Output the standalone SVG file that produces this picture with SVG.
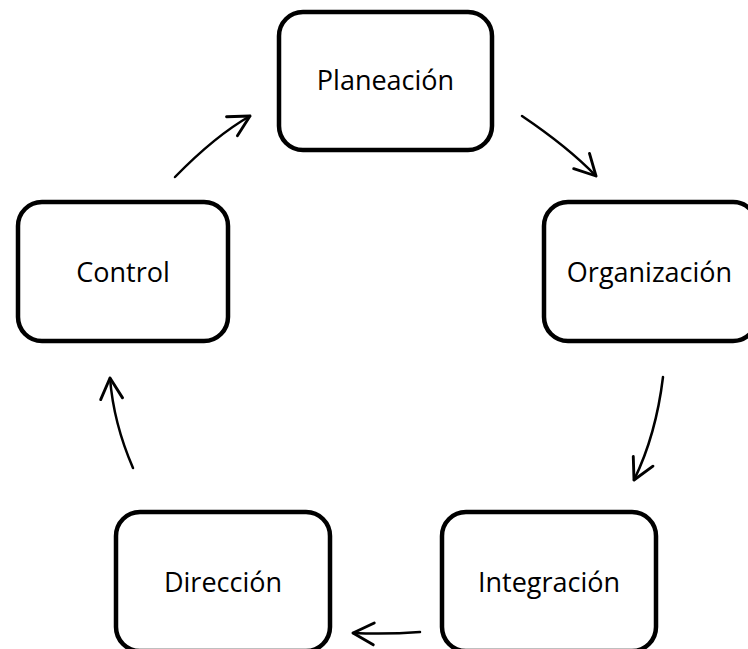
<svg xmlns="http://www.w3.org/2000/svg" width="748" height="649" viewBox="0 0 748 649">
  <style>
    .box { fill: #ffffff; stroke: #000000; stroke-width: 4.5; }
    .lbl { font-family: "Open Sans", "Liberation Sans", sans-serif; font-size: 27px; fill: #000000; text-anchor: middle; }
    .conn { fill: none; stroke: #000000; stroke-width: 2.5; stroke-linecap: round; }
  </style>
  <defs>
    <marker id="arrow" markerUnits="userSpaceOnUse" markerWidth="30" markerHeight="30" viewBox="-22 -12 26 24" refX="0" refY="0" orient="auto" overflow="visible">
      <path d="M -18 -9.5 L 0 0 L -18 9.5" fill="none" stroke="#000000" stroke-width="2.5" stroke-linecap="round" stroke-linejoin="round"/>
    </marker>
  </defs>
  <rect width="748" height="649" fill="#ffffff"/>
  <g id="planeacion">
    <rect class="box" x="279" y="12" width="213" height="138" rx="24" ry="24"/>
    <text class="lbl" x="385.5" y="90">Planeación</text>
  </g>
  <g id="organizacion">
    <rect class="box" x="544" y="202" width="213" height="139" rx="24" ry="24"/>
    <text class="lbl" x="649.5" y="282">Organización</text>
  </g>
  <g id="integracion">
    <rect class="box" x="442" y="512" width="214" height="139" rx="24" ry="24"/>
    <text class="lbl" x="549" y="592">Integración</text>
  </g>
  <g id="direccion">
    <rect class="box" x="116" y="512" width="214" height="139" rx="24" ry="24"/>
    <text class="lbl" x="223" y="592">Dirección</text>
  </g>
  <g id="control">
    <rect class="box" x="18" y="202" width="210" height="139" rx="24" ry="24"/>
    <text class="lbl" x="123" y="282">Control</text>
  </g>
  <g id="connectors">
    <path class="conn" d="M 175 177 Q 215 136 250 116" marker-end="url(#arrow)"/>
    <path class="conn" d="M 522 116 Q 568 147 596 176" marker-end="url(#arrow)"/>
    <path class="conn" d="M 663 377 Q 656 435 634 480" marker-end="url(#arrow)"/>
    <path class="conn" d="M 420 632 Q 387 634.5 353 633" marker-end="url(#arrow)"/>
    <path class="conn" d="M 133 468 Q 113.5 423 110 378" marker-end="url(#arrow)"/>
  </g>
</svg>
